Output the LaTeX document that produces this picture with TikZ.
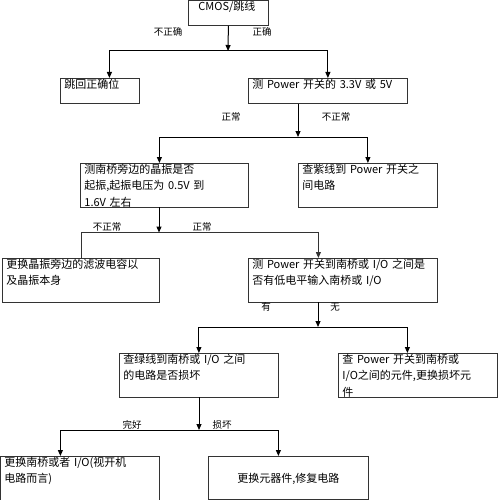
\documentclass[tikz,border=0pt]{standalone}
\usepackage{fontspec}
\setmainfont{Noto Sans CJK SC}
\usetikzlibrary{arrows.meta}

\begin{document}
\begin{tikzpicture}[x=1pt, y=-1pt,
  box/.style={draw=black!80, line width=0.8pt, anchor=north west, align=left,
              font=\fontsize{11}{16.5}\selectfont, inner xsep=4pt, inner ysep=1pt,
              text height=9pt, text depth=14pt},
  tall/.style={text depth=32.5pt},
  note/.style={font=\fontsize{9.5}{11}\selectfont, inner sep=1pt},
  arr/.style={-{Triangle[length=6pt,width=5pt]}, line width=1pt},
  thinarr/.style={-{Triangle[length=6pt,width=5pt]}, draw=black!80, line width=0.8pt}]
\useasboundingbox (0,0) rectangle (498,500);
\node[box, text width=72pt] (b1) at (188,0) {\hspace*{6pt}CMOS/跳线};
\node[box, text width=71pt] (b2) at (60,78) {跳回正确位};
\node[box, text width=151pt] (b3) at (248,78) {测 Power 开关的 3.3V 或 5V};
\node[box, tall, text width=160pt] (b4) at (80,163) {测南桥旁边的晶振是否\\起振,起振电压为 0.5V 到\\1.6V 左右};
\node[box, tall, text width=131pt] (b5) at (298,163) {查紫线到 Power 开关之\\间电路};
\node[box, tall, text width=149pt] (b6) at (2,258) {更换晶振旁边的滤波电容以\\及晶振本身};
\node[box, tall, text width=181pt] (b7) at (248,258) {测 Power 开关到南桥或 I/O 之间是\\否有低电平输入南桥或 I/O};
\node[box, tall, text width=151pt] (b8) at (119,353) {查绿线到南桥或 I/O 之间\\的电路是否损坏};
\node[box, tall, text width=151pt] (b9) at (338,353) {查 Power 开关到南桥或\\I/O之间的元件,更换损坏元\\件};
\node[box, tall, text width=151pt] (b10) at (0,456) {更换南桥或者 I/O(视开机\\电路而言)};
\node[box, text width=152pt, align=center, text height=25pt, text depth=16pt] (b11) at (208,456) {更换元器件,修复电路};

% branch points
\coordinate (j1) at (228,51);
\coordinate (j2) at (298,137);
\coordinate (j3) at (159,232.5);
\coordinate (j4) at (318,327);
\coordinate (j5) at (199,430);

\draw[arr] (b1.south) -- (j1);
\draw[arr] (j1) -| ([xshift=9.5pt]b2.north);
\draw[arr] (j1) -| (b3.north);
\draw[arr] (b3.south -| j2) -- (j2);
\draw[arr] (j2) -| ([xshift=-5pt]b4.north);
\draw[arr] (j2) -| (b5.north);
\draw[arr] (b4.south -| j3) -- (j3);
\draw[draw=black!80, line width=0.8pt] (j3) -| (b6.north);
\draw[thinarr] (j3) -| ([xshift=-24.5pt]b7.north);
\draw[arr] (b7.south -| j4) -- (j4);
\draw[arr] (j4) -| (b8.north);
\draw[arr] (j4) -| ([xshift=-10.5pt]b9.north);
\draw[arr] (b8.south -| j5) -- (j5);
\draw[arr] (j5) -| ([xshift=-19.5pt]b10.north);
\draw[arr] (j5) -| ([xshift=-10pt]b11.north);

\node[note] (l1) at (168,32) {不正确};
\node[note] (l2) at (262,32) {正确};
\node[note] (l3) at (231,117) {正常};
\node[note] (l4) at (336,117) {不正常};
\node[note] (l5) at (107,227) {不正常};
\node[note] (l6) at (202,227) {正常};
\node[note] (l7) at (266,307) {有};
\node[note] (l8) at (335,307) {无};
\node[note] (l9) at (132,425) {完好};
\node[note] (l10) at (222,425) {损坏};
\end{tikzpicture}
\end{document}
